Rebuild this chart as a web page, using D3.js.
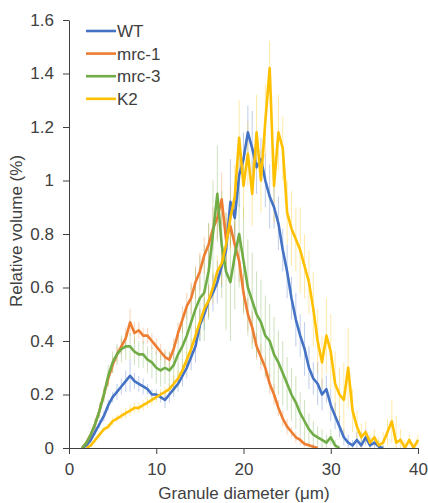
<!DOCTYPE html>
<html><head><meta charset="utf-8">
<script src="https://cdn.jsdelivr.net/npm/d3@7"></script>
<style>
html,body{margin:0;padding:0;background:#fff;}
svg{display:block;font-family:"Liberation Sans",Arial,sans-serif;}
</style></head>
<body><svg id="chart" width="428" height="503"></svg>
<script>
// Granule diameter grid (µm)
const diameters = [1,1.5,2,2.5,3,3.5,4,4.5,5,5.5,6,6.5,7,7.5,8,8.5,9,9.5,10,10.5,11,11.5,12,12.5,13,13.5,14,14.5,15,15.5,16,16.5,17,17.5,18,18.5,19,19.5,20,20.5,21,21.5,22,22.5,23,23.5,24,24.5,25,25.5,26,26.5,27,27.5,28,28.5,29,29.5,30,30.5,31,31.5,32,32.5,33,33.5,34,34.5,35,35.5,36,36.5,37,37.5,38,38.5,39,39.5,40];

const seriesNames = ["WT","mrc-1","mrc-3","K2"];
const seriesColors = ["#4472C4","#ED7D31","#70AD47","#FFC000"];

const wtValues = [null,0,0.01,0.03,0.06,0.09,0.12,0.16,0.19,0.21,0.23,0.25,0.27,0.25,0.24,0.23,0.22,0.20,0.20,0.19,0.18,0.20,0.22,0.24,0.27,0.30,0.34,0.38,0.46,0.50,0.55,0.58,0.62,0.68,0.74,0.92,0.86,1.02,1.08,1.18,1.12,1.05,1.08,1.00,0.94,0.90,0.84,0.74,0.66,0.56,0.48,0.42,0.37,0.30,0.26,0.24,0.20,0.22,0.16,0.12,0.08,0.04,0.02,0.01,0.03,0.01,0.04,0.01,0.02,0.005,0,null,null,null,null,null,null,null,null];
const mrc1Values = [null,0,0.02,0.05,0.09,0.14,0.20,0.26,0.31,0.35,0.38,0.41,0.47,0.43,0.44,0.42,0.42,0.40,0.38,0.36,0.34,0.33,0.37,0.43,0.48,0.53,0.56,0.62,0.66,0.72,0.76,0.82,0.86,0.93,0.78,0.83,0.76,0.70,0.58,0.50,0.45,0.38,0.34,0.30,0.24,0.20,0.15,0.11,0.08,0.06,0.04,0.03,0.015,0.01,0.005,0,null,null,null,null,null,null,null,null,null,null,null,null,null,null,null,null,null,null,null,null,null,null,null];
const mrc3Values = [null,0,0.02,0.05,0.09,0.14,0.20,0.27,0.32,0.35,0.37,0.38,0.38,0.36,0.35,0.35,0.33,0.32,0.30,0.29,0.30,0.29,0.31,0.35,0.38,0.42,0.47,0.52,0.56,0.58,0.66,0.80,0.95,0.76,0.66,0.62,0.72,0.80,0.70,0.60,0.55,0.50,0.47,0.42,0.40,0.35,0.32,0.28,0.24,0.20,0.17,0.13,0.10,0.07,0.05,0.04,0.03,0.02,0.04,0.01,0,null,null,null,null,null,null,null,null,null,null,null,null,null,null,null,null,null,null];
const k2Values = [null,null,0,0.01,0.03,0.05,0.07,0.08,0.10,0.11,0.12,0.13,0.14,0.15,0.15,0.16,0.17,0.18,0.19,0.20,0.21,0.22,0.24,0.26,0.29,0.33,0.37,0.42,0.47,0.52,0.55,0.60,0.66,0.69,0.76,0.86,0.94,1.16,0.98,1.10,0.95,1.18,1.00,1.22,1.42,0.98,1.18,1.12,0.88,0.82,0.78,0.74,0.68,0.62,0.52,0.40,0.32,0.42,0.36,0.24,0.20,0.18,0.30,0.14,0.08,0.04,0.06,0.02,0.04,0.01,0.02,0.06,0.10,0.02,0.03,0,0.03,0,0.03];

// error bar half-widths
const wtErr = [0,0,0.005,0.01,0.01,0.015,0.02,0.02,0.02,0.03,0.03,0.04,0.06,0.03,0.03,0.03,0.02,0.02,0.02,0.02,0.03,0.03,0.03,0.03,0.04,0.04,0.05,0.06,0.06,0.06,0.06,0.07,0.08,0.08,0.1,0.16,0.1,0.12,0.1,0.1,0.14,0.1,0.08,0.1,0.12,0.08,0.1,0.08,0.1,0.08,0.1,0.08,0.1,0.08,0.06,0.08,0.06,0.05,0.06,0.05,0.04,0.03,0.03,0.02,0.03,0.05,0.03,0.03,0.02,0.02,0.01,0,0,0,0,0,0,0,0];
const mrc1Err = [0,0,0.01,0.01,0.02,0.02,0.02,0.03,0.03,0.03,0.03,0.04,0.05,0.04,0.03,0.03,0.03,0.03,0.03,0.03,0.03,0.03,0.04,0.04,0.05,0.05,0.06,0.06,0.07,0.07,0.08,0.08,0.08,0.1,0.1,0.08,0.08,0.08,0.07,0.06,0.06,0.05,0.05,0.04,0.04,0.04,0.03,0.03,0.03,0.02,0.02,0.02,0.01,0.01,0.01,0,0,0,0,0,0,0,0,0,0,0,0,0,0,0,0,0,0,0,0,0,0,0,0];
const mrc3Err = [0,0,0.01,0.01,0.02,0.03,0.03,0.04,0.04,0.04,0.05,0.05,0.05,0.05,0.05,0.05,0.05,0.06,0.06,0.06,0.06,0.07,0.08,0.09,0.1,0.12,0.14,0.15,0.16,0.18,0.18,0.2,0.18,0.2,0.22,0.22,0.2,0.2,0.2,0.18,0.18,0.16,0.16,0.15,0.14,0.14,0.12,0.12,0.1,0.1,0.1,0.08,0.08,0.06,0.05,0.04,0.04,0.03,0.03,0.02,0,0,0,0,0,0,0,0,0,0,0,0,0,0,0,0,0,0,0];
const k2Err = [0,0,0,0.005,0.01,0.01,0.01,0.01,0.015,0.015,0.015,0.02,0.02,0.02,0.02,0.02,0.02,0.02,0.02,0.02,0.02,0.02,0.03,0.03,0.03,0.03,0.04,0.04,0.05,0.05,0.06,0.06,0.06,0.08,0.1,0.12,0.12,0.14,0.12,0.12,0.12,0.14,0.12,0.14,0.1,0.14,0.14,0.12,0.12,0.14,0.12,0.16,0.12,0.12,0.14,0.12,0.1,0.14,0.14,0.12,0.1,0.14,0.15,0.08,0.06,0.05,0.04,0.03,0.03,0.03,0.04,0.05,0.08,0.1,0.04,0.03,0.02,0.02,0.02];

const xTicks = [0,10,20,30,40];
const xTickLabels = ["0","10","20","30","40"];
const yTicks = [0,0.2,0.4,0.6,0.8,1,1.2,1.4,1.6];
const yTickLabels = ["0","0.2","0.4","0.6","0.8","1","1.2","1.4","1.6"];

const seriesValues = [wtValues, mrc1Values, mrc3Values, k2Values];
const seriesErr = [wtErr, mrc1Err, mrc3Err, k2Err];

const svg = d3.select("#chart");
svg.append("rect").attr("width",428).attr("height",503).attr("fill","#fff");

const x = d3.scaleLinear().domain([0,40]).range([69,418]);
const y = d3.scaleLinear().domain([0,1.6]).range([448,20]);

// error bars
seriesValues.forEach((vals, s) => {
  const g = svg.append("g").attr("stroke", seriesColors[s]).attr("stroke-opacity",0.35).attr("stroke-width",1);
  vals.forEach((v,i) => {
    const e = seriesErr[s][i];
    if (v == null || !e) return;
    g.append("line")
      .attr("x1", x(diameters[i])).attr("x2", x(diameters[i]))
      .attr("y1", y(Math.max(0, v - e))).attr("y2", y(v + e));
  });
});

// lines
const line = d3.line()
  .defined(d => d[1] != null)
  .x(d => x(d[0])).y(d => y(d[1]));
seriesValues.forEach((vals, s) => {
  svg.append("path")
    .datum(diameters.map((dm,i) => [dm, vals[i]]))
    .attr("fill","none")
    .attr("stroke", seriesColors[s])
    .attr("stroke-width",2.6)
    .attr("stroke-linejoin","round")
    .attr("d", line);
});

// axes
const axisColor = "#404040";
const xAxis = svg.append("g").attr("transform","translate(0,448)")
  .call(d3.axisBottom(x).tickValues(xTicks).tickFormat((d,i)=>xTickLabels[i]).tickSize(6).tickPadding(9).tickSizeOuter(0));
const yAxis = svg.append("g").attr("transform","translate(69,0)")
  .call(d3.axisLeft(y).tickValues(yTicks).tickFormat((d,i)=>yTickLabels[i]).tickSize(6).tickPadding(9).tickSizeOuter(0));
[xAxis,yAxis].forEach(a => {
  a.selectAll("path,line").attr("stroke",axisColor).attr("stroke-width",1);
  a.selectAll("text").attr("fill",axisColor).attr("font-size",17).attr("font-family","Liberation Sans, Arial, sans-serif");
});

// axis titles
svg.append("text").attr("x",244).attr("y",499).attr("text-anchor","middle")
  .attr("font-size",17).attr("fill",axisColor).text("Granule diameter (μm)");
svg.append("text").attr("transform","translate(22,231) rotate(-90)").attr("text-anchor","middle")
  .attr("font-size",17).attr("fill",axisColor).text("Relative volume (%)");

// legend
const legend = svg.append("g");
seriesNames.forEach((name,i) => {
  const ly = 31 + i*22.6;
  legend.append("line").attr("x1",86).attr("x2",116).attr("y1",ly).attr("y2",ly)
    .attr("stroke",seriesColors[i]).attr("stroke-width",2.6);
  legend.append("text").attr("x",117).attr("y",ly).attr("dy","0.35em")
    .attr("font-size",17).attr("fill",axisColor).text(name);
});
</script></body></html>
